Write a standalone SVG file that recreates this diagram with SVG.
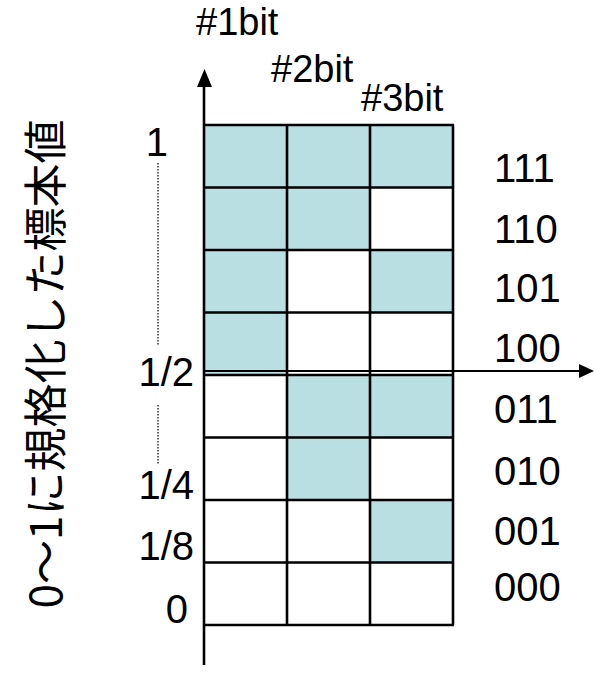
<svg xmlns="http://www.w3.org/2000/svg" width="594" height="673" viewBox="0 0 594 673">
<style>
.t{font-family:"Liberation Sans",Arial,sans-serif;font-size:40px;fill:#000}
.h{font-family:"Liberation Sans",Arial,sans-serif;font-size:38px;fill:#000}
.jp{font-family:"Noto Sans CJK JP","Liberation Sans",sans-serif;font-size:44px;fill:#000}
.f{fill:#BADFE2;stroke:#8a9a9c;stroke-width:1}
.g{stroke:#000;stroke-width:2.6;fill:none}
.d{stroke:#333;stroke-width:1.5;stroke-dasharray:1.5 1.5}
</style>
<rect width="594" height="673" fill="#fff"/>
<g id="cells">
<rect class="f" x="204" y="125" width="83" height="62.5"/>
<rect class="f" x="287" y="125" width="83" height="62.5"/>
<rect class="f" x="370" y="125" width="83" height="62.5"/>
<rect class="f" x="204" y="187.5" width="83" height="62.5"/>
<rect class="f" x="287" y="187.5" width="83" height="62.5"/>
<rect class="f" x="204" y="250" width="83" height="62.5"/>
<rect class="f" x="370" y="250" width="83" height="62.5"/>
<rect class="f" x="204" y="312.5" width="83" height="62.5"/>
<rect class="f" x="287" y="375" width="83" height="62.5"/>
<rect class="f" x="370" y="375" width="83" height="62.5"/>
<rect class="f" x="287" y="437.5" width="83" height="62.5"/>
<rect class="f" x="370" y="500" width="83" height="62.5"/>
</g>
<g id="grid" class="g">
<line x1="204" y1="125" x2="454" y2="125"/>
<line x1="204" y1="187.5" x2="454" y2="187.5"/>
<line x1="204" y1="250" x2="454" y2="250"/>
<line x1="204" y1="312.5" x2="454" y2="312.5"/>
<line x1="204" y1="375" x2="454" y2="375"/>
<line x1="204" y1="437.5" x2="454" y2="437.5"/>
<line x1="204" y1="500" x2="454" y2="500"/>
<line x1="204" y1="562.5" x2="454" y2="562.5"/>
<line x1="204" y1="625" x2="454" y2="625"/>
<line x1="287" y1="125" x2="287" y2="625"/>
<line x1="370" y1="125" x2="370" y2="625"/>
<line x1="453" y1="125" x2="453" y2="625"/>
</g>
<g id="axes">
<line class="g" x1="204" y1="84" x2="204" y2="665"/>
<polygon points="204.5,69 197,87 212,87" fill="#000"/>
<line x1="204" y1="371" x2="582" y2="371" stroke="#000" stroke-width="1.8"/>
<polygon points="594,371 579,364 579,378" fill="#000"/>
<line class="d" x1="158" y1="163" x2="158" y2="345"/>
<line class="d" x1="158" y1="405" x2="158" y2="465"/>
</g>
<g id="labels">
<text class="h" x="196" y="35">#1bit</text>
<text class="h" x="271" y="82">#2bit</text>
<text class="h" x="361" y="111">#3bit</text>
<g text-anchor="end">
<text class="t" x="168" y="156">1</text>
<text class="t" x="194" y="386">1/2</text>
<text class="t" x="194" y="499">1/4</text>
<text class="t" x="194" y="560">1/8</text>
<text class="t" x="188" y="623">0</text>
</g>
<text class="t" x="494" y="182">111</text>
<text class="t" x="494" y="243">110</text>
<text class="t" x="494" y="302">101</text>
<text class="t" x="494" y="362">100</text>
<text class="t" x="494" y="423">011</text>
<text class="t" x="494" y="485">010</text>
<text class="t" x="494" y="545">001</text>
<text class="t" x="494" y="601">000</text>
<text class="jp" text-anchor="middle" transform="translate(62,364) rotate(-90)">0～1に規格化した標本値</text>
</g>
</svg>
